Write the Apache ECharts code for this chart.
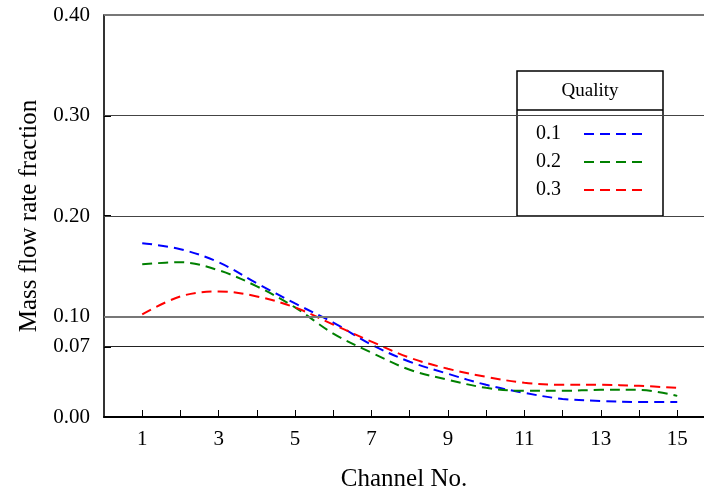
<!DOCTYPE html>
<html>
<head>
<meta charset="utf-8">
<script src="https://cdn.jsdelivr.net/npm/echarts@6/dist/echarts.min.js"></script>
<style>
  html, body { margin: 0; padding: 0; background: #fff; }
  #main { width: 704px; height: 492px; }
</style>
</head>
<body>
<div id="main"></div>
<script>
// 数据
var channels = [1, 2, 3, 4, 5, 6, 7, 8, 9, 10, 11, 12, 13, 14, 15];
var q01 = [0.173, 0.167, 0.154, 0.133, 0.113, 0.094, 0.072, 0.055, 0.043, 0.032, 0.024, 0.018, 0.016, 0.015, 0.015];
var q02 = [0.152, 0.154, 0.146, 0.130, 0.109, 0.083, 0.064, 0.047, 0.037, 0.029, 0.026, 0.026, 0.027, 0.027, 0.021];
var q03 = [0.102, 0.120, 0.125, 0.120, 0.109, 0.092, 0.075, 0.059, 0.048, 0.040, 0.034, 0.032, 0.032, 0.031, 0.029];
var yTicks = [0, 0.07, 0.10, 0.20, 0.30, 0.40];
var xLabels = [1, 3, 5, 7, 9, 11, 13, 15];

var font = 'Liberation Serif';

function pairs(vals) {
    return channels.map(function (c, i) { return [c, vals[i]]; });
}

function makeSeries(name, color, vals, withGrid) {
    var s = {
        name: name,
        type: 'line',
        data: pairs(vals),
        smooth: 0.35,
        symbol: 'none',
        lineStyle: { color: color, width: 2, type: [10, 6] },
        itemStyle: { color: color }
    };
    if (withGrid) {
        // 水平参考线
        s.markLine = {
            silent: true,
            symbol: 'none',
            label: { show: false },
            data: [
                { yAxis: 0.07, lineStyle: { color: '#222', width: 1, type: 'solid' } },
                { yAxis: 0.10, lineStyle: { color: '#777', width: 2, type: 'solid' } },
                { yAxis: 0.20, lineStyle: { color: '#444', width: 1.2, type: 'solid' } },
                { yAxis: 0.30, lineStyle: { color: '#444', width: 1.2, type: 'solid' } },
                { yAxis: 0.40, lineStyle: { color: '#777', width: 2, type: 'solid' } }
            ]
        };
    }
    return s;
}

var chart = echarts.init(document.getElementById('main'));

var option = {
    animation: false,
    grid: { left: 104, right: 0, top: 15, bottom: 75, outerBoundsMode: 'none' },
    textStyle: { fontFamily: font },
    legend: {
        data: ['0.1', '0.2', '0.3'],
        orient: 'vertical',
        left: 531,
        top: 119,
        align: 'right',
        z: 10,
        itemWidth: 58,
        itemHeight: 12,
        itemGap: 8,
        itemStyle: { opacity: 0 },
        textStyle: { fontFamily: font, fontSize: 20, color: '#000', padding: [0, 18, 0, 0] }
    },
    xAxis: {
        type: 'value',
        min: 0,
        max: 15.7,
        interval: 1,
        name: 'Channel No.',
        nameLocation: 'middle',
        nameGap: 50,
        nameTextStyle: { fontFamily: font, fontSize: 25, color: '#000' },
        axisLine: { lineStyle: { color: '#000', width: 2 } },
        axisTick: { inside: true, length: 7, lineStyle: { color: '#000' }, customValues: channels },
        axisLabel: { fontFamily: font, fontSize: 21, color: '#000', margin: 12, customValues: xLabels },
        splitLine: { show: false }
    },
    yAxis: {
        type: 'value',
        min: 0,
        max: 0.4,
        interval: 0.1,
        name: 'Mass flow rate fraction',
        nameLocation: 'middle',
        nameGap: 62,
        nameTextStyle: { fontFamily: font, fontSize: 25, color: '#000' },
        axisLine: { show: true, lineStyle: { color: '#333', width: 2 } },
        axisTick: { show: true, inside: true, length: 7, lineStyle: { color: '#000', width: 2 }, customValues: yTicks },
        axisLabel: {
            fontFamily: font, fontSize: 21, color: '#000', margin: 14,
            customValues: yTicks,
            formatter: function (v) { return v.toFixed(2); }
        },
        splitLine: { show: false }
    },
    graphic: [
        {
            type: 'rect', z: 5,
            shape: { x: 517, y: 71, width: 146, height: 145 },
            style: { fill: '#fff', stroke: '#000', lineWidth: 1.5 }
        },
        {
            type: 'line', z: 6,
            shape: { x1: 517, y1: 110, x2: 663, y2: 110 },
            style: { stroke: '#000', lineWidth: 1.5 }
        },
        {
            type: 'text', z: 6,
            style: { text: 'Quality', x: 590, y: 91, align: 'center', verticalAlign: 'middle',
                     font: '19px "Liberation Serif"', fill: '#000' }
        }
    ],
    series: [
        makeSeries('0.1', '#0000ff', q01, true),
        makeSeries('0.2', '#008000', q02, false),
        makeSeries('0.3', '#ff0000', q03, false)
    ]
};

chart.setOption(option);
</script>
</body>
</html>
